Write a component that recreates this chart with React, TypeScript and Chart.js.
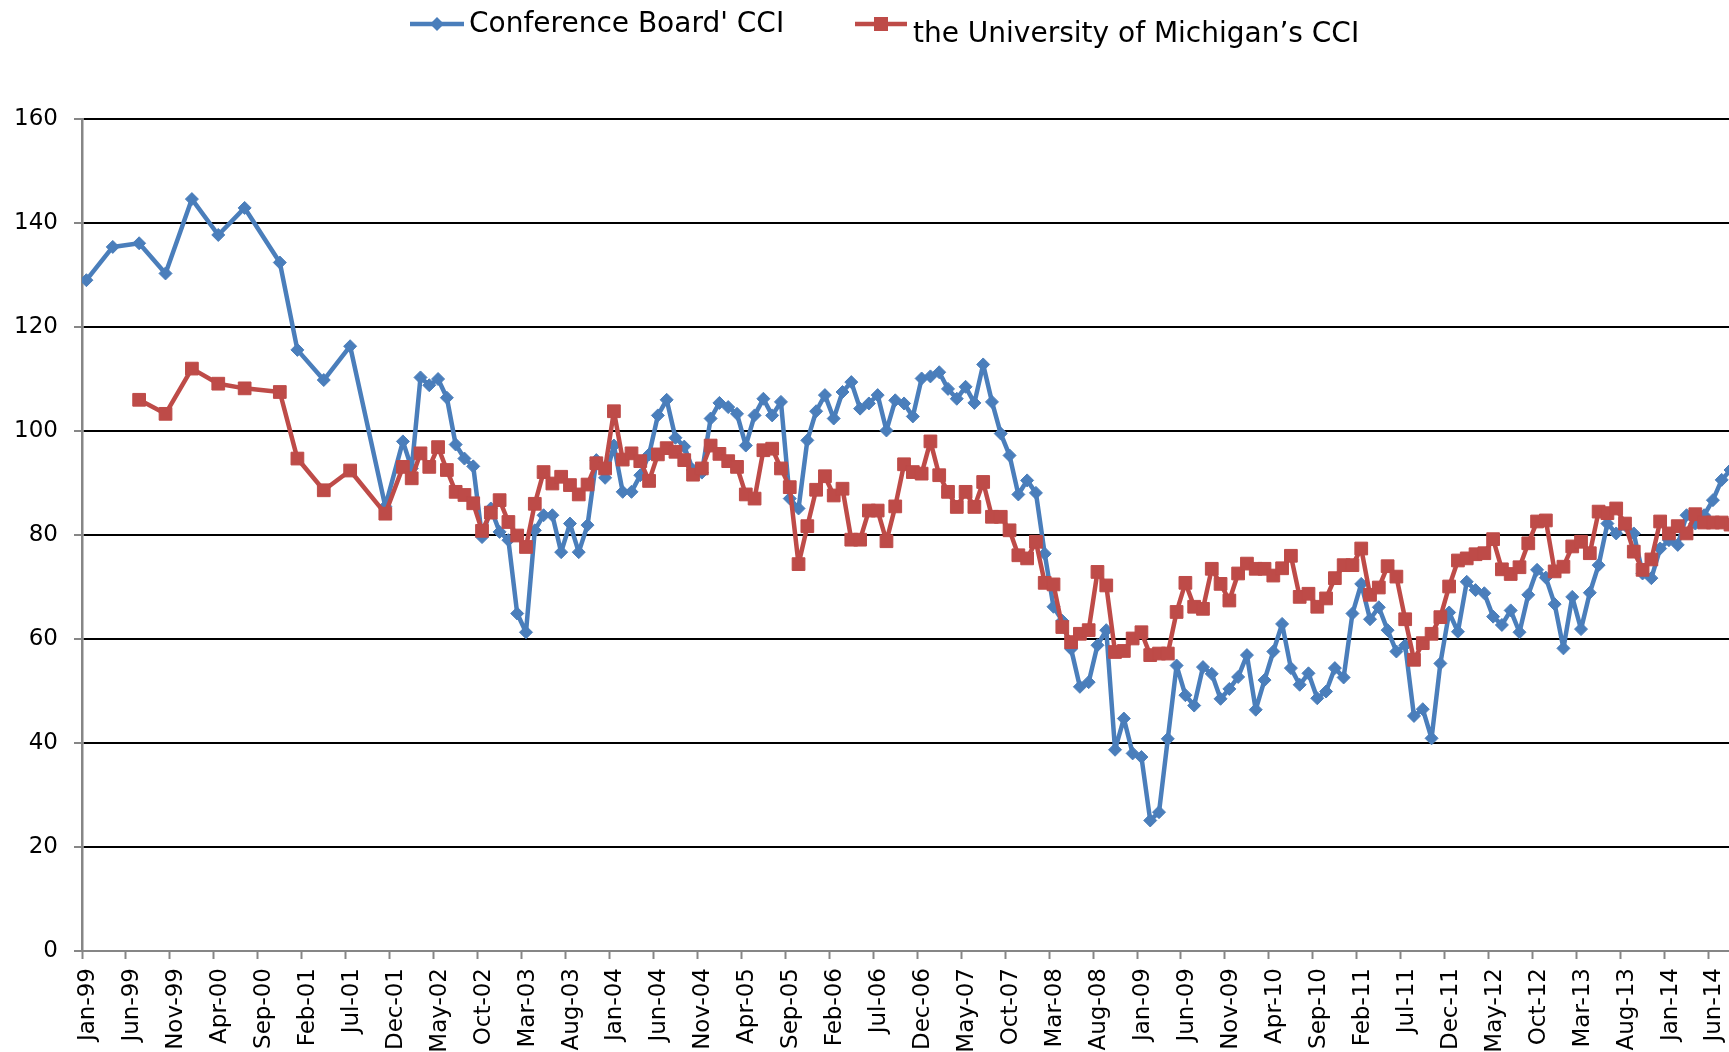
import React, { useEffect, useRef } from "react";
import { Chart, registerables } from "chart.js";

Chart.register(...registerables);

// Monthly series, index 0 = Jan-99 ... index 187 = Aug-14 (null = no observation)
const CB_1999 = [129.0, null, null, 135.4, null, null, 136.1, null, null, 130.3, null, null];
const CB_2000 = [144.6, null, null, 137.7, null, null, 142.9, null, null, null, 132.4, null];
const CB_2001 = [115.6, null, null, 109.8, null, null, 116.3, null, null, null, 85.5, null];
const CB_2002 = [98.0, 92.8, 110.3, 108.8, 110.0, 106.4, 97.4, 94.7, 93.2, 79.6, 85.1, 80.6];
const CB_2003 = [79.0, 64.9, 61.3, 80.9, 83.8, 83.8, 76.7, 82.2, 76.7, 81.9, 94.4, 91.0];
const CB_2004 = [97.2, 88.3, 88.3, 91.5, 95.5, 103.0, 106.0, 98.7, 97.0, 92.5, 92.0, 102.4];
const CB_2005 = [105.4, 104.6, 103.3, 97.2, 103.0, 106.2, 103.0, 105.6, 87.0, 85.1, 98.2, 103.8];
const CB_2006 = [106.9, 102.4, 107.5, 109.4, 104.3, 105.3, 106.9, 100.1, 105.9, 105.3, 102.8, 110.1];
const CB_2007 = [110.5, 111.3, 108.1, 106.2, 108.5, 105.4, 112.8, 105.6, 99.5, 95.3, 87.8, 90.5];
const CB_2008 = [88.1, 76.4, 66.2, 63.5, 58.1, 50.8, 51.7, 58.8, 61.7, 38.7, 44.7, 38.0];
const CB_2009 = [37.3, 25.1, 26.7, 40.8, 54.9, 49.2, 47.2, 54.6, 53.3, 48.5, 50.4, 52.7];
const CB_2010 = [56.9, 46.4, 52.1, 57.6, 62.9, 54.4, 51.2, 53.4, 48.6, 49.9, 54.4, 52.6];
const CB_2011 = [64.9, 70.6, 63.8, 66.1, 61.7, 57.6, 58.8, 45.2, 46.5, 40.9, 55.3, 65.1];
const CB_2012 = [61.4, 71.0, 69.4, 68.8, 64.3, 62.7, 65.5, 61.3, 68.5, 73.3, 71.8, 66.7];
const CB_2013 = [58.2, 68.1, 61.9, 68.9, 74.2, 82.2, 80.3, 81.9, 80.3, 72.6, 71.7, 77.4];
const CB_2014 = [79.0, 78.1, 83.8, 82.2, 83.8, 86.7, 90.6, 92.5];

const UM_1999 = [null, null, null, null, null, null, 106.0, null, null, 103.3, null, null];
const UM_2000 = [112.0, null, null, 109.1, null, null, 108.2, null, null, null, 107.5, null];
const UM_2001 = [94.7, null, null, 88.6, null, null, 92.4, null, null, null, 84.1, null];
const UM_2002 = [93.1, 90.9, 95.7, 93.1, 96.9, 92.5, 88.3, 87.7, 86.1, 80.8, 84.3, 86.7];
const UM_2003 = [82.5, 79.9, 77.7, 86.0, 92.1, 89.9, 91.2, 89.6, 87.8, 89.7, 93.8, 92.8];
const UM_2004 = [103.8, 94.5, 95.7, 94.2, 90.4, 95.5, 96.7, 96.0, 94.4, 91.6, 92.8, 97.2];
const UM_2005 = [95.6, 94.2, 93.1, 87.8, 87.0, 96.3, 96.6, 92.8, 89.2, 74.4, 81.7, 88.7];
const UM_2006 = [91.3, 87.6, 88.9, 79.1, 79.1, 84.7, 84.7, 78.8, 85.5, 93.6, 92.1, 91.8];
const UM_2007 = [98.0, 91.5, 88.3, 85.4, 88.3, 85.4, 90.2, 83.5, 83.5, 80.9, 76.1, 75.5];
const UM_2008 = [78.7, 70.8, 70.5, 62.3, 59.4, 61.0, 61.7, 72.9, 70.3, 57.5, 57.7, 60.1];
const UM_2009 = [61.3, 56.9, 57.2, 57.2, 65.2, 70.8, 66.2, 65.8, 73.5, 70.6, 67.4, 72.6];
const UM_2010 = [74.5, 73.5, 73.5, 72.2, 73.6, 76.0, 68.1, 68.7, 66.2, 67.8, 71.7, 74.2];
const UM_2011 = [74.2, 77.4, 68.5, 69.9, 74.0, 72.0, 63.8, 56.0, 59.2, 61.0, 64.2, 70.1];
const UM_2012 = [75.1, 75.5, 76.3, 76.5, 79.2, 73.4, 72.5, 73.8, 78.4, 82.6, 82.8, 73.0];
const UM_2013 = [73.9, 77.8, 78.7, 76.5, 84.5, 84.2, 85.1, 82.2, 76.8, 73.3, 75.3, 82.6];
const UM_2014 = [80.3, 81.7, 80.3, 84.0, 82.4, 82.4, 82.4, 82.0];

const CONFERENCE_BOARD = [
  ...CB_1999, ...CB_2000, ...CB_2001, ...CB_2002, ...CB_2003, ...CB_2004, ...CB_2005, ...CB_2006,
  ...CB_2007, ...CB_2008, ...CB_2009, ...CB_2010, ...CB_2011, ...CB_2012, ...CB_2013, ...CB_2014,
];
const MICHIGAN = [
  ...UM_1999, ...UM_2000, ...UM_2001, ...UM_2002, ...UM_2003, ...UM_2004, ...UM_2005, ...UM_2006,
  ...UM_2007, ...UM_2008, ...UM_2009, ...UM_2010, ...UM_2011, ...UM_2012, ...UM_2013, ...UM_2014,
];

// x-axis tick labels, one every 5 months starting Jan-99
const TICK_LABELS = [
  "Jan-99", "Jun-99", "Nov-99", "Apr-00", "Sep-00", "Feb-01", "Jul-01", "Dec-01", "May-02", "Oct-02",
  "Mar-03", "Aug-03", "Jan-04", "Jun-04", "Nov-04", "Apr-05", "Sep-05", "Feb-06", "Jul-06", "Dec-06",
  "May-07", "Oct-07", "Mar-08", "Aug-08", "Jan-09", "Jun-09", "Nov-09", "Apr-10", "Sep-10", "Feb-11",
  "Jul-11", "Dec-11", "May-12", "Oct-12", "Mar-13", "Aug-13", "Jan-14", "Jun-14",
];
const TICK_STEP = 5;
const Y_TICKS = [0, 20, 40, 60, 80, 100, 120, 140, 160];

const SERIES_NAMES = ["Conference Board' CCI", "the University of Michigan\u2019s CCI"];

const BLUE = "#4A7EBB";
const RED = "#BE4B48";
const GRAY = "#868686";
const FONT = "'DejaVu Sans', Verdana, sans-serif";

const toPoints = (arr: (number | null)[]) =>
  arr
    .map((v, i) => (v === null ? null : { x: i + 0.5, y: v }))
    .filter((p) => p !== null) as { x: number; y: number }[];

const legendPlugin = {
  id: "customLegend",
  afterDraw(chart: any) {
    const ctx: CanvasRenderingContext2D = chart.ctx;
    const items = [
      { color: BLUE, shape: "diamond", x0: 410, x1: 464, y: 24, tx: 469, ty: 25, text: SERIES_NAMES[0] },
      { color: RED, shape: "square", x0: 855, x1: 907, y: 24, tx: 913, ty: 35, text: SERIES_NAMES[1] },
    ];
    ctx.save();
    items.forEach((it) => {
      ctx.strokeStyle = it.color;
      ctx.fillStyle = it.color;
      ctx.lineWidth = 4.5;
      ctx.beginPath();
      ctx.moveTo(it.x0, it.y);
      ctx.lineTo(it.x1, it.y);
      ctx.stroke();
      const cx = (it.x0 + it.x1) / 2;
      ctx.beginPath();
      if (it.shape === "diamond") {
        const r = 7;
        ctx.moveTo(cx - r, it.y);
        ctx.lineTo(cx, it.y - r);
        ctx.lineTo(cx + r, it.y);
        ctx.lineTo(cx, it.y + r);
        ctx.closePath();
      } else {
        const s = 7;
        ctx.rect(cx - s, it.y - s, 2 * s, 2 * s);
      }
      ctx.fill();
      ctx.fillStyle = "#000";
      ctx.font = `28px ${FONT}`;
      ctx.textAlign = "left";
      ctx.textBaseline = "middle";
      ctx.fillText(it.text, it.tx, it.ty);
    });
    ctx.restore();
  },
};

export default function App() {
  const canvasRef = useRef<HTMLCanvasElement | null>(null);

  useEffect(() => {
    const canvas = canvasRef.current;
    if (!canvas) return;
    const chart = new Chart(canvas, {
      type: "line",
      data: {
        datasets: [
          {
            label: SERIES_NAMES[0],
            data: toPoints(CONFERENCE_BOARD),
            borderColor: BLUE,
            backgroundColor: BLUE,
            borderWidth: 4.5,
            borderJoinStyle: "round",
            pointStyle: "rectRot",
            pointRadius: 6.5,
            pointBorderWidth: 1,
            pointBorderColor: BLUE,
            pointBackgroundColor: BLUE,
            tension: 0,
            order: 1,
          },
          {
            label: SERIES_NAMES[1],
            data: toPoints(MICHIGAN),
            borderColor: RED,
            backgroundColor: RED,
            borderWidth: 4.5,
            borderJoinStyle: "round",
            pointStyle: "rect",
            pointRadius: 9,
            pointBorderWidth: 1,
            pointBorderColor: RED,
            pointBackgroundColor: RED,
            tension: 0,
            order: 0,
          },
        ],
      },
      options: {
        responsive: false,
        animation: false,
        events: [],
        layout: { autoPadding: false, padding: { top: 119, right: 0, left: 0, bottom: 0 } },
        plugins: { legend: { display: false }, tooltip: { enabled: false } },
        scales: {
          x: {
            type: "linear",
            min: 0,
            max: 187.33,
            afterBuildTicks: (scale: any) => {
              scale.ticks = TICK_LABELS.map((_, k) => ({ value: k * TICK_STEP }));
            },
            afterFit: (scale: any) => {
              scale.height = 101;
              scale.paddingLeft = 0;
              scale.paddingRight = 0;
            },
            grid: {
              drawOnChartArea: false,
              drawTicks: true,
              tickLength: 8,
              tickColor: GRAY,
              tickWidth: 2,
            },
            border: { display: true, color: GRAY, width: 2 },
            ticks: {
              autoSkip: false,
              maxRotation: 90,
              minRotation: 90,
              padding: 9,
              labelOffset: 6,
              color: "#000",
              font: { family: FONT, size: 23 },
              callback: (v: any) => TICK_LABELS[Math.round(Number(v) / TICK_STEP)] ?? "",
            },
          },
          y: {
            min: 0,
            max: 160,
            afterBuildTicks: (scale: any) => {
              scale.ticks = Y_TICKS.map((v) => ({ value: v }));
            },
            afterFit: (scale: any) => {
              scale.width = 82;
            },
            grid: {
              color: (ctx: any) => (ctx.tick && ctx.tick.value === 0 ? "rgba(0,0,0,0)" : "#000"),
              lineWidth: 2,
              drawTicks: true,
              tickLength: 8,
              tickColor: GRAY,
              tickWidth: 2,
            },
            border: { display: true, color: GRAY, width: 2.5 },
            ticks: {
              padding: 16,
              color: "#000",
              font: { family: FONT, size: 23 },
            },
          },
        },
      },
      plugins: [legendPlugin],
    } as any);
    return () => chart.destroy();
  }, []);

  return (
    <div
      style={{
        position: "absolute",
        left: 0,
        top: 0,
        width: 1729,
        height: 1052,
        overflow: "hidden",
        background: "#fff",
      }}
    >
      <canvas ref={canvasRef} width={1729} height={1052} style={{ display: "block" }} />
    </div>
  );
}
